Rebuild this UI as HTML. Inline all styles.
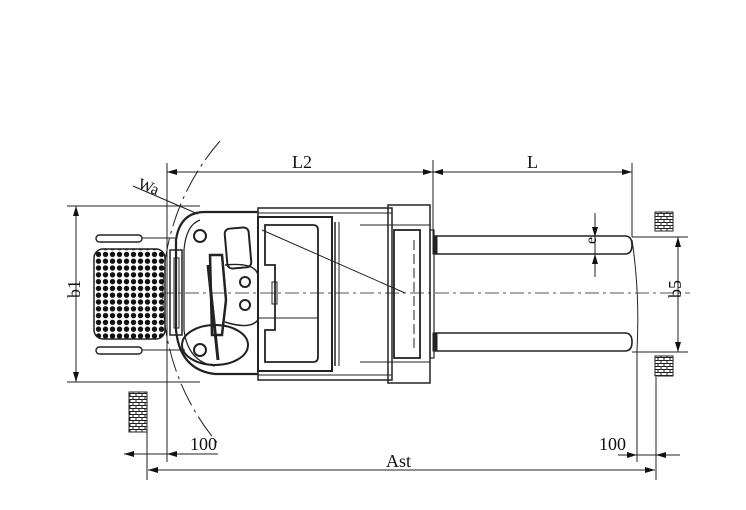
<!DOCTYPE html>
<html><head><meta charset="utf-8"><style>
html,body{margin:0;padding:0;background:#fff;}
svg{display:block;}
text{font-family:"Liberation Serif",serif;fill:#111;}
</style></head><body>
<svg width="746" height="510" viewBox="0 0 746 510" xmlns="http://www.w3.org/2000/svg">
<defs>
<marker id="ar" viewBox="0 0 10 6" refX="10" refY="3" markerWidth="10" markerHeight="6" orient="auto-start-reverse" markerUnits="userSpaceOnUse"><path d="M0,0 L10,3 L0,6 z" fill="#111"/></marker>
<pattern id="dots" x="95" y="251" width="7" height="6.8" patternUnits="userSpaceOnUse"><circle cx="3.5" cy="3.4" r="2.7" fill="#111"/></pattern>
<pattern id="brick" x="0" y="0" width="6" height="6" patternUnits="userSpaceOnUse"><rect width="6" height="6" fill="#fff"/><path d="M0,0.5H6M0,3.5H6M1,0V3.5M4,3.5V6" stroke="#222" stroke-width="1"/></pattern>
</defs>
<g stroke="#222" fill="none" stroke-width="1">
<line x1="160" y1="293" x2="690" y2="293" stroke-dasharray="14,4,3,4" stroke="#555"/>
<line x1="167" y1="163" x2="167" y2="462"/>
<line x1="433" y1="160" x2="433" y2="236"/>
<line x1="632" y1="163" x2="632" y2="237"/>
<line x1="637" y1="350" x2="637" y2="462"/>
<path d="M632,240 Q640,293 637,350"/>
<line x1="167" y1="172" x2="433" y2="172" marker-start="url(#ar)" marker-end="url(#ar)"/>
<line x1="433" y1="172" x2="632" y2="172" marker-start="url(#ar)" marker-end="url(#ar)"/>
<line x1="67" y1="206" x2="200" y2="206"/>
<line x1="67" y1="382" x2="200" y2="382"/>
<line x1="76" y1="206" x2="76" y2="382" marker-start="url(#ar)" marker-end="url(#ar)"/>
<line x1="632" y1="237" x2="688" y2="237"/>
<line x1="632" y1="352" x2="688" y2="352"/>
<line x1="678" y1="237" x2="678" y2="352" marker-start="url(#ar)" marker-end="url(#ar)"/>
<line x1="595" y1="213" x2="595" y2="237" marker-end="url(#ar)"/>
<line x1="595" y1="277" x2="595" y2="254" marker-end="url(#ar)"/>
<line x1="595" y1="237" x2="595" y2="254"/>
<line x1="148" y1="470" x2="655" y2="470" marker-start="url(#ar)" marker-end="url(#ar)"/>
<line x1="147" y1="432" x2="147" y2="480"/>
<line x1="656" y1="377" x2="656" y2="480"/>
<line x1="124" y1="454" x2="147" y2="454" marker-start="url(#ar)"/>
<line x1="147" y1="454" x2="167" y2="454"/>
<line x1="167" y1="454" x2="218" y2="454" marker-start="url(#ar)"/>
<line x1="618" y1="455" x2="637" y2="455" marker-end="url(#ar)"/>
<line x1="637" y1="455" x2="656" y2="455"/>
<line x1="680" y1="455" x2="656" y2="455" marker-end="url(#ar)"/>
<path d="M220,141 A232,232 0 0 0 220,446" stroke-dasharray="24,5,3,5"/>
<line x1="133" y1="186" x2="198" y2="214"/>
<line x1="262" y1="230" x2="405" y2="293"/>
<rect x="96" y="235" width="46" height="7" rx="3.5" stroke-width="1.4"/>
<rect x="96" y="347" width="46" height="7" rx="3.5" stroke-width="1.4"/>
<line x1="142" y1="238" x2="175" y2="238"/>
<line x1="142" y1="350" x2="185" y2="350"/>
<rect x="94" y="249" width="71" height="90" rx="9" fill="url(#dots)" stroke-width="1.5"/>
<rect x="170" y="250" width="12" height="85" stroke-width="1.5"/>
<rect x="174" y="258" width="5" height="70"/>
<path d="M258,212 L205,212 Q180,212 176,240 L176,330 Q180,370 215,374 L258,374" stroke-width="2.2"/>
<path d="M200,220 Q186,225 184,250 L184,330 Q188,362 215,366" stroke-width="1.2"/>
<circle cx="200" cy="236" r="6" stroke-width="2"/>
<rect x="226" y="228" width="24" height="40" rx="5" stroke-width="2" transform="rotate(-5 238 248)"/>
<ellipse cx="215" cy="345" rx="33" ry="20" stroke-width="2"/>
<circle cx="200" cy="350" r="6" stroke-width="2"/>
<path d="M210,255 L222,255 L226,300 L222,335 L212,335 Z" stroke-width="2.5"/>
<circle cx="245" cy="282" r="5" stroke-width="2"/>
<circle cx="245" cy="305" r="5" stroke-width="2"/>
<path d="M225,265 Q255,262 258,275 L258,320 Q250,330 225,322" stroke-width="1.5"/>
<line x1="208" y1="265" x2="218" y2="360" stroke-width="3"/>
<rect x="258" y="208" width="134" height="172" stroke-width="1.5"/>
<line x1="258" y1="213" x2="392" y2="213"/>
<line x1="258" y1="375" x2="392" y2="375"/>
<rect x="258" y="217" width="74" height="154" stroke-width="2"/>
<path d="M265,225 L313,225 Q318,225 318,230 L318,357 Q318,362 313,362 L265,362 L265,330 L275,330 L275,265 L265,265 Z" stroke-width="1.8"/>
<rect x="272" y="282" width="5" height="22"/>
<line x1="258" y1="318" x2="318" y2="318"/>
<line x1="335" y1="222" x2="335" y2="366" stroke-width="1.5"/>
<line x1="339" y1="222" x2="339" y2="366"/>
<rect x="388" y="205" width="42" height="178" stroke-width="1.5"/>
<line x1="360" y1="225" x2="430" y2="225"/>
<line x1="360" y1="362" x2="430" y2="362"/>
<rect x="394" y="230" width="26" height="128" stroke-width="1.8"/>
<line x1="414" y1="240" x2="414" y2="350" stroke-dasharray="10,4"/>
<rect x="430" y="230" width="4" height="128" stroke-width="1.2"/>
<path d="M435,236 L625,236 Q632,236 632,245 Q632,254 625,254 L435,254" stroke-width="1.6"/>
<path d="M435,333 L625,333 Q632,333 632,342 Q632,351 625,351 L435,351" stroke-width="1.6"/>
<rect x="433" y="236" width="4" height="18" fill="#222"/>
<rect x="433" y="333" width="4" height="18" fill="#222"/>
</g>
<rect x="655" y="212" width="18" height="19" fill="url(#brick)" stroke="#222"/>
<rect x="655" y="356" width="18" height="20" fill="url(#brick)" stroke="#222"/>
<rect x="129" y="392" width="18" height="40" fill="url(#brick)" stroke="#222"/>
<text x="292" y="168" font-size="18">L2</text>
<text x="527" y="168" font-size="18">L</text>
<text x="137" y="188" font-size="16" transform="rotate(20 137 188)">Wa</text>
<text x="70" y="304" font-size="18" transform="rotate(-90 72 296)">b1</text>
<text x="671" y="304" font-size="18" transform="rotate(-90 673 296)">b5</text>
<text x="594" y="250" font-size="16" transform="rotate(-90 592 246)">e</text>
<text x="386" y="467" font-size="18">Ast</text>
<text x="190" y="450" font-size="18">100</text>
<text x="599" y="450" font-size="18">100</text>
</svg>
</body></html>
